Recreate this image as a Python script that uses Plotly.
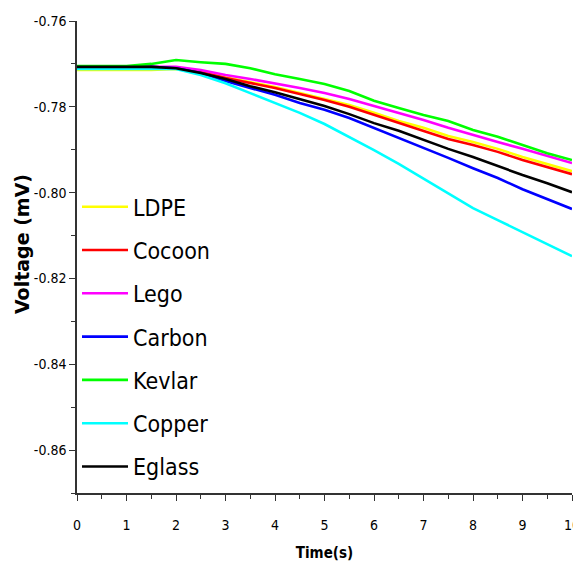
import plotly.graph_objects as go

time_s = [0, 0.5, 1, 1.5, 2, 2.5, 3, 3.5, 4, 4.5, 5, 5.5, 6, 6.5, 7, 7.5, 8, 8.5, 9, 9.5, 10]

ldpe = [-0.7714, -0.7714, -0.7714, -0.7714, -0.7712, -0.7719, -0.7731, -0.7742, -0.7754, -0.7768, -0.7782,
        -0.7796, -0.7814, -0.7833, -0.7849, -0.7868, -0.7882, -0.7898, -0.7917, -0.7933, -0.7950]
cocoon = [-0.7707, -0.7707, -0.7707, -0.7707, -0.7710, -0.7719, -0.7733, -0.7745, -0.7756, -0.7770, -0.7784,
          -0.7800, -0.7819, -0.7838, -0.7856, -0.7875, -0.7889, -0.7905, -0.7924, -0.7940, -0.7957]
lego = [-0.7707, -0.7707, -0.7707, -0.7707, -0.7707, -0.7714, -0.7726, -0.7735, -0.7745, -0.7756, -0.7768,
        -0.7782, -0.7798, -0.7814, -0.7831, -0.7849, -0.7866, -0.7882, -0.7898, -0.7915, -0.7931]
carbon = [-0.7707, -0.7707, -0.7707, -0.7707, -0.7710, -0.7721, -0.7740, -0.7756, -0.7772, -0.7791, -0.7807,
          -0.7826, -0.7849, -0.7873, -0.7896, -0.7919, -0.7943, -0.7966, -0.7992, -0.8015, -0.8038]
kevlar = [-0.7705, -0.7705, -0.7705, -0.7700, -0.7691, -0.7696, -0.7700, -0.7710, -0.7724, -0.7735, -0.7747,
          -0.7763, -0.7786, -0.7803, -0.7819, -0.7833, -0.7854, -0.7870, -0.7889, -0.7908, -0.7924]
copper = [-0.7712, -0.7712, -0.7712, -0.7712, -0.7712, -0.7726, -0.7745, -0.7768, -0.7791, -0.7814, -0.7840,
          -0.7870, -0.7901, -0.7933, -0.7968, -0.8001, -0.8036, -0.8064, -0.8092, -0.8120, -0.8148]
eglass = [-0.7707, -0.7707, -0.7707, -0.7707, -0.7710, -0.7721, -0.7735, -0.7752, -0.7766, -0.7782, -0.7798,
          -0.7817, -0.7838, -0.7856, -0.7877, -0.7898, -0.7917, -0.7938, -0.7959, -0.7978, -0.7999]

series_names = ["LDPE", "Cocoon", "Lego", "Carbon", "Kevlar", "Copper", "Eglass"]
series_values = [ldpe, cocoon, lego, carbon, kevlar, copper, eglass]
series_colors = ["#FFFF00", "#FF0000", "#FF00FF", "#0000FF", "#00FF00", "#00FFFF", "#000000"]

x_ticks = [0, 1, 2, 3, 4, 5, 6, 7, 8, 9, 10]
y_ticks = [-0.76, -0.78, -0.80, -0.82, -0.84, -0.86]
y_tick_labels = ["-0.76", "-0.78", "-0.80", "-0.82", "-0.84", "-0.86"]

narrow = "DejaVu Sans Condensed, Liberation Sans Narrow, sans-serif"

fig = go.Figure()
for name, vals, col in zip(series_names, series_values, series_colors):
    fig.add_trace(go.Scatter(x=time_s, y=vals, mode="lines", name=name, legendgroup=name,
                             line=dict(color=col, width=2.6)))

fig.update_layout(
    width=573, height=555,
    margin=dict(l=69, r=9, t=13, b=70),
    plot_bgcolor="white", paper_bgcolor="white",
    showlegend=True,
    legend=dict(x=0.0, y=0.652, xanchor="left", yanchor="top",
                bgcolor="rgba(0,0,0,0)", borderwidth=0,
                font=dict(family=narrow, size=23, color="black"),
                itemwidth=46, tracegroupgap=10.4),
    xaxis=dict(range=[0, 10], tickvals=x_ticks, ticks="outside", ticklen=6, tickwidth=1.3,
               tickcolor="#333", showline=True, linecolor="#333", linewidth=1.5,
               showgrid=False, zeroline=False, automargin=False,
               minor=dict(dtick=0.5, ticks="outside", ticklen=4, tickwidth=1.2, tickcolor="#333"),
               tickfont=dict(family=narrow, size=14, color="black"),
               ticklabelstandoff=12,
               title=dict(text="<b>Time(s)</b>", font=dict(family=narrow, size=15, color="black"),
                          standoff=16)),
    yaxis=dict(range=[-0.87, -0.76], tickvals=y_ticks, ticktext=y_tick_labels, ticks="outside",
               ticklen=6, tickwidth=1.3, tickcolor="#333", showline=True, linecolor="#333",
               linewidth=1.5, showgrid=False, zeroline=False, automargin=False,
               minor=dict(dtick=0.01, ticks="outside", ticklen=4, tickwidth=1.2, tickcolor="#333"),
               tickfont=dict(family=narrow, size=14, color="black")),
    annotations=[dict(text="<b>Voltage (mV)</b>", xref="paper", yref="paper",
                      x=-0.111, y=0.5275, xanchor="center", yanchor="middle",
                      textangle=-90, showarrow=False,
                      font=dict(family="DejaVu Sans, sans-serif", size=19, color="black"))],
)

fig.write_html("out.html")
